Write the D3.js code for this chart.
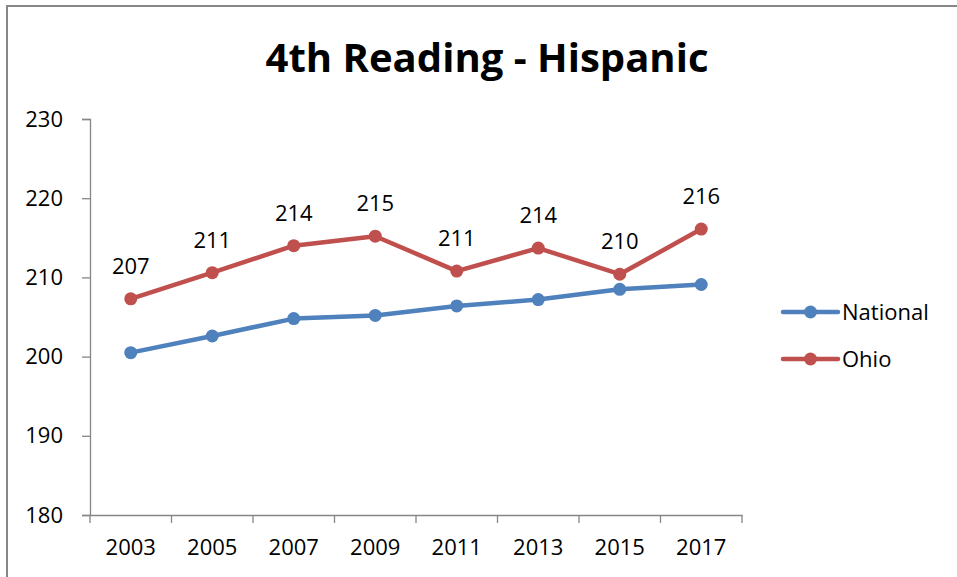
<!DOCTYPE html>
<html lang="en">
<head>
<meta charset="UTF-8">
<title>4th Reading - Hispanic</title>
<script src="https://cdn.jsdelivr.net/npm/d3@7"></script>
<style>
  body { margin: 0; background: #fff; }
  text { font-family: "Open Sans", sans-serif; fill: #000; }
</style>
</head>
<body>
<script>
var years = ["2003", "2005", "2007", "2009", "2011", "2013", "2015", "2017"];
var national = [200.5, 202.6, 204.8, 205.2, 206.4, 207.2, 208.5, 209.1];
var ohio = [207.3, 210.6, 214.0, 215.2, 210.8, 213.7, 210.4, 216.1];
var ohioLabels = ["207", "211", "214", "215", "211", "214", "210", "216"];
var yTicks = [180, 190, 200, 210, 220, 230];

var series = [
  { name: "National", values: national, color: "#4F81BD" },
  { name: "Ohio", values: ohio, color: "#C0504D" }
];

var svg = d3.select("body").append("svg").attr("width", 957).attr("height", 577);

// outer chart border (runs off the right and bottom of the picture)
svg.append("rect").attr("x", 7).attr("y", 6).attr("width", 970).attr("height", 600)
  .attr("fill", "none").attr("stroke", "#878787").attr("stroke-width", 2);

svg.append("text").attr("x", 487).attr("y", 72).attr("text-anchor", "middle")
  .attr("font-size", 40).attr("font-weight", "bold")
  .attr("textLength", 443).attr("lengthAdjust", "spacingAndGlyphs")
  .text("4th Reading - Hispanic");

var plotLeft = 90, plotRight = 742, plotTop = 119, plotBottom = 515;

var x = d3.scaleBand().domain(years).range([plotLeft, plotRight]);
var y = d3.scaleLinear().domain([180, 230]).range([plotBottom, plotTop]);

var yAxis = svg.append("g").attr("transform", "translate(" + plotLeft + ",0)")
  .call(d3.axisLeft(y).tickValues(yTicks).tickSize(8).tickPadding(19).tickFormat(d3.format("d")));
var xAxis = svg.append("g").attr("transform", "translate(0," + plotBottom + ")")
  .call(d3.axisBottom(x).tickSize(0).tickPadding(24));

// category boundary ticks on the x axis
svg.append("g").selectAll("line").data(years.concat(["end"])).join("line")
  .attr("x1", function(d, i) { return plotLeft + i * x.step(); })
  .attr("x2", function(d, i) { return plotLeft + i * x.step(); })
  .attr("y1", plotBottom).attr("y2", plotBottom + 8)
  .attr("stroke", "#868686").attr("stroke-width", 1.3);

[yAxis, xAxis].forEach(function(g) {
  g.select(".domain").attr("stroke", "#868686").attr("stroke-width", 1.3);
  g.selectAll(".tick line").attr("stroke", "#868686").attr("stroke-width", 1.3);
  g.selectAll(".tick text").attr("font-size", 22).attr("font-family", "Open Sans").attr("fill", "#000");
});

var line = d3.line()
  .x(function(d, i) { return x(years[i]) + x.bandwidth() / 2; })
  .y(function(d) { return y(d); });

series.forEach(function(s) {
  svg.append("path").datum(s.values).attr("d", line)
    .attr("fill", "none").attr("stroke", s.color).attr("stroke-width", 4.5)
    .attr("stroke-linejoin", "round");
  svg.append("g").selectAll("circle").data(s.values).join("circle")
    .attr("cx", function(d, i) { return x(years[i]) + x.bandwidth() / 2; })
    .attr("cy", function(d) { return y(d); })
    .attr("r", 6.5).attr("fill", s.color);
});

svg.append("g").selectAll("text").data(ohio).join("text")
  .attr("x", function(d, i) { return x(years[i]) + x.bandwidth() / 2; })
  .attr("y", function(d) { return y(d) - 25; })
  .attr("text-anchor", "middle").attr("font-size", 22)
  .text(function(d, i) { return ohioLabels[i]; });

// legend
var legend = svg.append("g").selectAll("g").data(series).join("g")
  .attr("transform", function(d, i) { return "translate(783," + (312 + i * 47) + ")"; });
legend.append("line").attr("x1", 0).attr("x2", 55)
  .attr("stroke", function(d) { return d.color; }).attr("stroke-width", 4.5).attr("stroke-linecap", "round");
legend.append("circle").attr("cx", 27.5).attr("r", 6.5).attr("fill", function(d) { return d.color; });
legend.append("text").attr("x", 59).attr("y", 8).attr("font-size", 22)
  .text(function(d) { return d.name; });
</script>
</body>
</html>
